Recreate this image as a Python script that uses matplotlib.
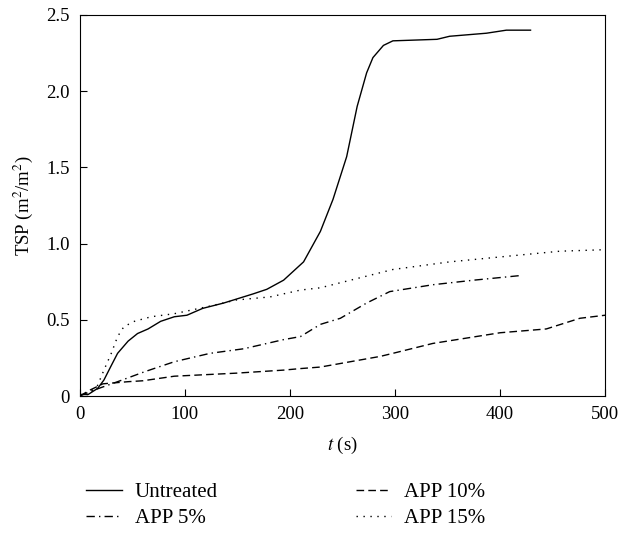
import matplotlib
matplotlib.use("Agg")
import matplotlib.pyplot as plt

plt.rcParams['font.family'] = ['Liberation Serif', 'DejaVu Serif']
plt.rcParams['mathtext.fontset'] = 'stix'

# Untreated
t_untr = [0, 8, 17, 23, 30, 36, 46, 55, 65, 77, 90, 102, 117, 137, 165, 178, 194,
          213, 229, 241, 254, 264, 273, 279, 289, 298, 340, 352, 387, 406, 429]
y_untr = [0.01, 0.01, 0.05, 0.105, 0.20, 0.28, 0.36, 0.41, 0.44, 0.49, 0.52, 0.53,
          0.575, 0.61, 0.67, 0.70, 0.76, 0.88, 1.08, 1.29, 1.57, 1.90, 2.12, 2.22,
          2.30, 2.33, 2.34, 2.36, 2.38, 2.40, 2.40]

# APP 5%
t_app5 = [0, 10, 36, 62, 90, 124, 156, 194, 210, 229, 248, 273, 295, 336, 375, 419]
y_app5 = [0.0, 0.03, 0.094, 0.16, 0.225, 0.28, 0.31, 0.37, 0.39, 0.47, 0.51, 0.61,
          0.685, 0.73, 0.76, 0.79]

# APP 10%
t_app10 = [0, 10, 22, 46, 60, 90, 149, 194, 210, 229, 286, 298, 336, 400, 444, 476, 500]
y_app10 = [0.0, 0.04, 0.08, 0.094, 0.10, 0.13, 0.15, 0.17, 0.18, 0.19, 0.26, 0.28,
           0.345, 0.415, 0.44, 0.51, 0.53]

# APP 15%
t_app15 = [0, 8, 17, 23, 30, 36, 42, 52, 68, 90, 124, 149, 181, 210, 229, 298, 352,
           419, 457, 500]
y_app15 = [0.01, 0.01, 0.07, 0.17, 0.28, 0.39, 0.455, 0.49, 0.52, 0.54, 0.59, 0.63,
           0.65, 0.695, 0.71, 0.83, 0.88, 0.925, 0.95, 0.96]

fig = plt.figure(figsize=(6.33, 5.33), dpi=100)
ax = fig.add_axes([0.126, 0.257, 0.830, 0.715])

ax.plot(t_untr, y_untr, color='black', lw=1.0, ls='-', label='Untreated')
ax.plot(t_app5, y_app5, color='black', lw=1.0, ls=(0, (6, 3, 1, 3)), label='APP 5%')
ax.plot(t_app10, y_app10, color='black', lw=1.0, ls=(0, (5.5, 3)), label='APP 10%')
ax.plot(t_app15, y_app15, color='black', lw=1.0, ls=(0, (1, 4)), label='APP 15%')

ax.set_xlim(0, 500)
ax.set_ylim(0, 2.5)
ax.set_xticks([0, 100, 200, 300, 400, 500])
ax.set_yticks([0, 0.5, 1.0, 1.5, 2.0, 2.5])
ax.set_yticklabels(['0', '0.5', '1.0', '1.5', '2.0', '2.5'])
ax.tick_params(direction='in', length=5, labelsize=13.5, pad=7, top=False, right=False)
ax.set_xlabel('$t$ (s)', fontsize=13.5, labelpad=9)
ax.set_ylabel('TSP (m$^2$/m$^2$)', fontsize=13.5, labelpad=8)

ax.legend(loc='upper left', bbox_to_anchor=(-0.023, -0.178), ncol=2, frameon=False,
          fontsize=15, handlelength=1.7, handletextpad=0.63, columnspacing=6.6,
          labelspacing=0.3)

plt.savefig('out.png', dpi=100)
plt.close()
